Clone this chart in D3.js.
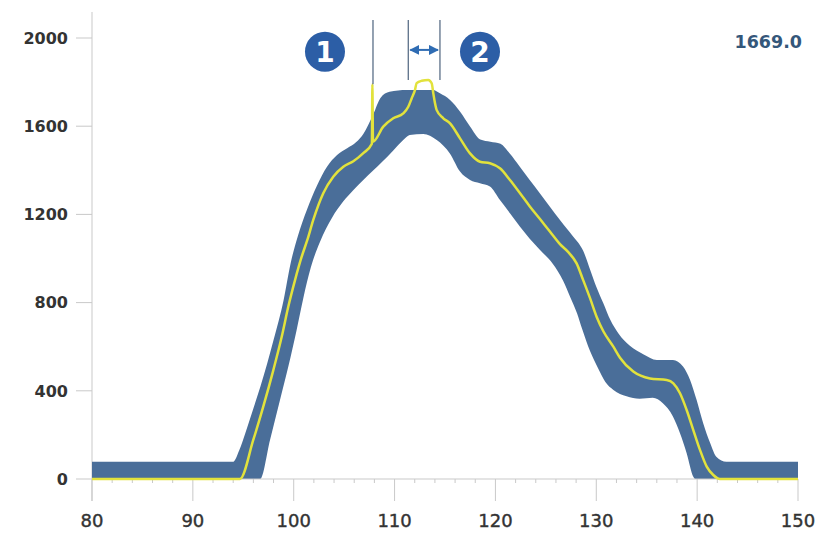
<!DOCTYPE html>
<html>
<head>
<meta charset="utf-8">
<script src="https://d3js.org/d3.v7.min.js"></script>
<style>
  body { margin: 0; background: #fff; }
  svg { display: block; }
</style>
</head>
<body>
<script>
// values
var xTicks = [80, 90, 100, 110, 120, 130, 140, 150];
var yTicks = [0, 400, 800, 1200, 1600, 2000];
var readout = '1669.0';

// envelope upper edge [x, value]
var upperEdge = [[80,78],[94,78],[94.6,130],[95.2,207],[96,320],[96.7,419],[98,630],[99,812],[99.7,980],
  [100.4,1100],[101.3,1220],[102.3,1330],[103.3,1416],[104.3,1469],[105.3,1500],[106.2,1528],[106.9,1565],
  [107.9,1655],[108.6,1728],[109.5,1756],[111.2,1764],[113.8,1764],[114.5,1749],[115.5,1719],[116.5,1666],
  [117.5,1598],[118.5,1540],[119.5,1530],[120.5,1520],[121.4,1477],[122.4,1417],[123.4,1356],[124.4,1296],
  [125.4,1235],[126.4,1175],[127.7,1100],[128.7,1035],[129.4,948],[130,872],[130.7,797],[131.4,721],
  [132.2,660],[133.3,605],[134.7,565],[136,540],[137.6,540],[138.6,510],[139.3,449],[139.95,358],
  [140.6,253],[141.3,162],[141.9,101],[142.9,78],[150,78]];

// envelope lower edge [x, value]
var lowerEdge = [[80,0],[96.66,0],[97.65,177],[98.64,358],[99.46,509],[100.29,676],[100.95,820],
  [101.7,960],[102.6,1075],[103.8,1185],[104.9,1258],[105.9,1310],[106.9,1356],[107.9,1400],
  [108.7,1435],[109.87,1490],[110.86,1537],[111.5,1560],[112.85,1565],[114.18,1537],[115.5,1475],
  [116.49,1394],[117.48,1356],[118.47,1341],[119.46,1326],[120.45,1265],[121.44,1205],[122.44,1144],
  [123.4,1090],[124.4,1040],[125.7,975],[126.7,900],[127.4,827],[128.1,751],[128.6,680],[129.38,580],
  [130.2,500],[130.9,440],[131.7,404],[133,375],[134.3,364],[135.6,368],[136.6,343],[137.6,283],
  [138.3,207],[138.96,117],[139.62,10],[139.8,0],[150,0]];

// measured curve [x, value]
var measured = [[80,0],[94.67,0],[95.99,177],[96.98,328],[97.98,494],[98.81,645],[99.46,781],[100.13,902],
  [100.79,1008],[101.35,1084],[101.94,1175],[102.93,1296],[103.92,1371],[104.92,1416],[105.91,1441],
  [106.9,1478],[107.75,1520],[107.8,1790],[107.86,1530],[108.88,1598],[109.87,1636],[110.86,1658],
  [111.36,1688],[111.7,1727],[112.02,1764],[112.19,1795],[112.69,1806],[113.34,1810],[113.68,1795],
  [113.84,1749],[114.01,1704],[114.18,1673],[114.83,1636],[115.5,1613],[116.49,1545],[117.48,1477],
  [118.47,1439],[119.46,1432],[120.45,1409],[121.44,1356],[122.44,1296],[123.43,1235],[124.4,1180],
  [125.4,1122],[126.4,1065],[127.2,1030],[128.05,978],[128.7,902],[129.38,820],[130.04,735],[130.7,670],
  [131.69,600],[132.35,550],[133.67,487],[135.32,456],[136.98,449],[137.64,434],[138.3,389],[138.96,313],
  [139.62,222],[140.28,132],[140.95,56],[141.6,18],[142.26,0],[150,0]];

// markers: x position, bottom value
var markerX = [107.86, 111.36, 114.5];
var markerBottom = [1790, 1810, 1810];
var markerTop = 2082;
var badgeX = [103.1, 118.47];
var badgeText = ['1', '2'];
var badgeY = 1938;
var arrowY = 1946;

var width = 826, height = 535;
var svg = d3.select('body').append('svg').attr('width', width).attr('height', height);

var x = d3.scaleLinear().domain([80, 150]).range([92, 798]);
var y = d3.scaleLinear().domain([0, 2000]).range([479, 38]);

var axisColor = '#c9c9c9';
var font = '"DejaVu Sans", sans-serif';

// axes
svg.append('line').attr('x1', x(80)).attr('x2', x(80)).attr('y1', y(2118)).attr('y2', y(0) + 22)
  .attr('stroke', axisColor).attr('stroke-width', 1);
svg.selectAll('.ytick').data(yTicks).enter().append('line')
  .attr('x1', x(80) - 16).attr('x2', x(80)).attr('y1', function(d){return y(d)}).attr('y2', function(d){return y(d)})
  .attr('stroke', axisColor);
svg.selectAll('.ylab').data(yTicks).enter().append('text')
  .attr('x', 68).attr('y', function(d){return y(d)}).attr('dy', '0.36em')
  .attr('text-anchor', 'end').attr('font-size', 16).attr('font-weight', 'bold')
  .attr('fill', '#333').style('font-family', font).text(function(d){return d});

var minor = d3.range(80, 151, 2).filter(function(d){return d % 10 !== 0});
svg.selectAll('.minor').data(minor).enter().append('line')
  .attr('x1', function(d){return x(d)}).attr('x2', function(d){return x(d)})
  .attr('y1', y(0)).attr('y2', y(0) + 4).attr('stroke', axisColor);
svg.selectAll('.major').data(xTicks).enter().append('line')
  .attr('x1', function(d){return x(d)}).attr('x2', function(d){return x(d)})
  .attr('y1', y(0)).attr('y2', y(0) + 22).attr('stroke', axisColor);
svg.selectAll('.xlab').data(xTicks).enter().append('text')
  .attr('x', function(d){return x(d)}).attr('y', 527)
  .attr('text-anchor', 'middle').attr('font-size', 18)
  .attr('fill', '#333').attr('stroke', '#333').attr('stroke-width', 0.4)
  .style('font-family', font).text(function(d){return d});

// band
var line = d3.line().x(function(d){return x(d[0])}).y(function(d){return y(d[1])}).curve(d3.curveMonotoneX);
var bandPath = line(upperEdge) + 'L' + line(lowerEdge.slice().reverse()).slice(1) + 'Z';
svg.append('path').attr('d', bandPath).attr('fill', '#4a6e99');

svg.append('line').attr('x1', x(80)).attr('x2', x(150)).attr('y1', y(0)).attr('y2', y(0))
  .attr('stroke', axisColor);

svg.append('path').attr('d', line(measured)).attr('fill', 'none')
  .attr('stroke', '#e2e23c').attr('stroke-width', 2.5).attr('stroke-linejoin', 'round');

// markers
svg.selectAll('.marker').data(markerX).enter().append('line')
  .attr('x1', function(d){return x(d)}).attr('x2', function(d){return x(d)})
  .attr('y1', y(markerTop)).attr('y2', function(d, i){return y(markerBottom[i])})
  .attr('stroke', '#5b6f88').attr('stroke-width', 1.3);

var defs = svg.append('defs');
defs.append('marker').attr('id', 'ah').attr('viewBox', '0 0 10 10').attr('refX', 9).attr('refY', 5)
  .attr('markerWidth', 5).attr('markerHeight', 5).attr('orient', 'auto-start-reverse')
  .append('path').attr('d', 'M0,0 L10,5 L0,10 Z').attr('fill', '#2f6cb3');
svg.append('line').attr('x1', x(markerX[1]) + 2).attr('x2', x(markerX[2]) - 2)
  .attr('y1', y(arrowY)).attr('y2', y(arrowY))
  .attr('stroke', '#2f6cb3').attr('stroke-width', 2)
  .attr('marker-start', 'url(#ah)').attr('marker-end', 'url(#ah)');

svg.selectAll('.badge').data(badgeX).enter().append('circle')
  .attr('cx', function(d){return x(d)}).attr('cy', y(badgeY)).attr('r', 20).attr('fill', '#2c5ea6');
svg.selectAll('.badgetxt').data(badgeX).enter().append('text')
  .attr('x', function(d){return x(d)}).attr('y', y(badgeY)).attr('dy', '0.36em')
  .attr('text-anchor', 'middle').attr('font-size', 28).attr('font-weight', 'bold')
  .attr('fill', '#fff').style('font-family', font).text(function(d, i){return badgeText[i]});

svg.append('text').attr('x', 802).attr('y', 48).attr('text-anchor', 'end')
  .attr('font-size', 17.5).attr('font-weight', 'bold').attr('fill', '#34577a')
  .style('font-family', font).text(readout);
</script>
</body>
</html>
